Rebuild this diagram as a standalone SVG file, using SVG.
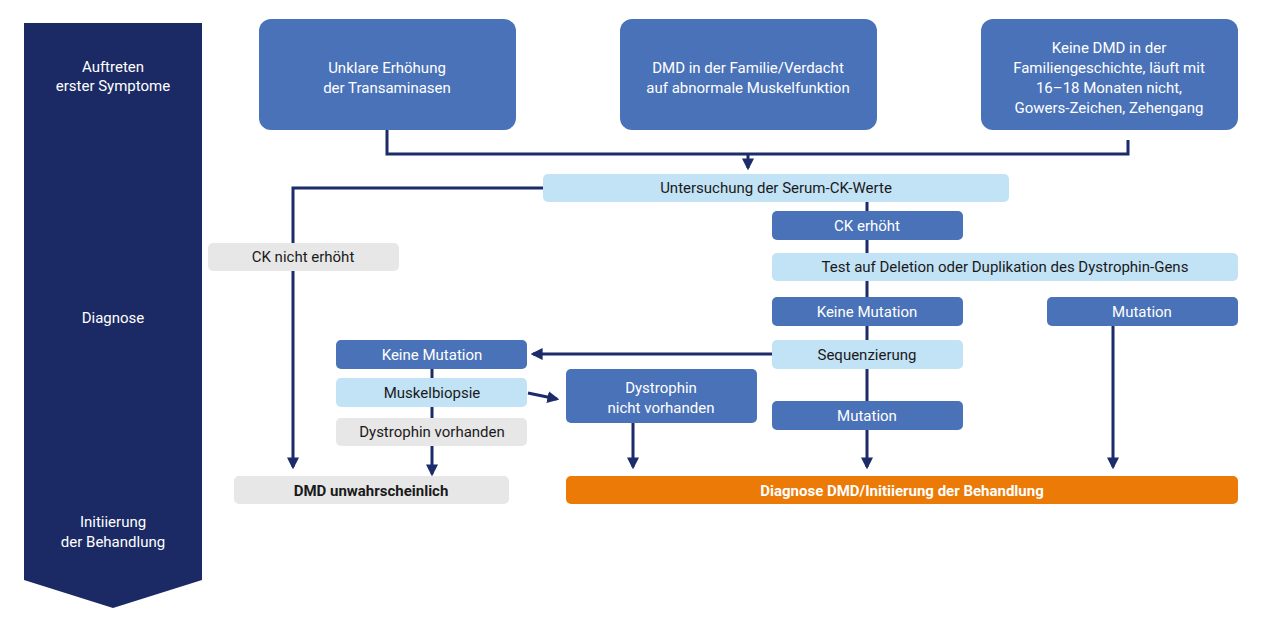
<svg xmlns="http://www.w3.org/2000/svg" width="1280" height="634" viewBox="0 0 1280 634">
<defs>
<marker id="ah" viewBox="0 0 10 10" refX="8" refY="5" markerWidth="4" markerHeight="4" orient="auto"><path d="M0,0L10,5L0,10z" fill="#1c2b69"/></marker>
<style>
text{font-family:Roboto,"Liberation Sans",sans-serif;font-size:15px;text-anchor:middle}
.b{fill:#4a72b8}.l{fill:#c2e2f6}.g{fill:#e7e7e7}.o{fill:#ec7a06}
.w{fill:#fff}.k{fill:#1a1a1a}
.c{stroke:#1c2b69;stroke-width:3;fill:none}
.a{marker-end:url(#ah)}
</style>
</defs>
<rect width="1280" height="634" fill="#fff"/>
<g id="banner">
<polygon points="24,23 202,23 202,580 113,608 24,580" fill="#1b2a64"/>
<text x="113" y="72" class="w">Auftreten</text><text x="113" y="91" class="w">erster Symptome</text>
<text x="113" y="323" class="w">Diagnose</text>
<text x="113" y="527" class="w">Initiierung</text><text x="113" y="547" class="w">der Behandlung</text>
</g>
<g id="connectors">
<path class="c" d="M387,130V154H1128V140"/>
<path class="c a" d="M748,154V168"/>
<path class="c a" d="M543,188H293V467"/>
<path class="c a" d="M867,202V467"/>
<path class="c a" d="M1113,326V467"/>
<path class="c a" d="M772,354H533"/>
<path class="c a" d="M432,369V474"/>
<path class="c a" d="M528,393L557,399"/>
<path class="c a" d="M633,423V467"/>
</g>
<g id="n1"><rect class="b" x="259" y="19" width="257" height="111" rx="12"/><text class="w" x="387" y="73">Unklare Erhöhung</text><text class="w" x="387" y="93">der Transaminasen</text></g>
<g id="n2"><rect class="b" x="620" y="19" width="257" height="111" rx="12"/><text class="w" x="748" y="73">DMD in der Familie/Verdacht</text><text class="w" x="748" y="93">auf abnormale Muskelfunktion</text></g>
<g id="n3"><rect class="b" x="981" y="19" width="257" height="111" rx="12"/><text class="w" x="1109" y="53">Keine DMD in der</text><text class="w" x="1109" y="73">Familiengeschichte, läuft mit</text><text class="w" x="1109" y="93">16–18 Monaten nicht,</text><text class="w" x="1109" y="113">Gowers-Zeichen, Zehengang</text></g>
<g id="serum"><rect class="l" x="543" y="174" width="466" height="28" rx="5"/><text class="k" x="776" y="193">Untersuchung der Serum-CK-Werte</text></g>
<g id="cknot"><rect class="g" x="208" y="243" width="191" height="28" rx="5"/><text class="k" x="303" y="262">CK nicht erhöht</text></g>
<g id="ckhigh"><rect class="b" x="772" y="211" width="191" height="29" rx="5"/><text class="w" x="867" y="231">CK erhöht</text></g>
<g id="test"><rect class="l" x="772" y="253" width="466" height="28" rx="5"/><text class="k" x="1005" y="272">Test auf Deletion oder Duplikation des Dystrophin-Gens</text></g>
<g id="keine1"><rect class="b" x="772" y="297" width="191" height="29" rx="5"/><text class="w" x="867" y="317">Keine Mutation</text></g>
<g id="mut1"><rect class="b" x="1047" y="297" width="191" height="29" rx="5"/><text class="w" x="1142" y="317">Mutation</text></g>
<g id="seq"><rect class="l" x="772" y="340" width="191" height="29" rx="5"/><text class="k" x="867" y="360">Sequenzierung</text></g>
<g id="mut2"><rect class="b" x="772" y="401" width="191" height="29" rx="5"/><text class="w" x="867" y="421">Mutation</text></g>
<g id="keine2"><rect class="b" x="336" y="340" width="191" height="29" rx="5"/><text class="w" x="432" y="360">Keine Mutation</text></g>
<g id="biopsie"><rect class="l" x="336" y="378" width="191" height="29" rx="5"/><text class="k" x="432" y="398">Muskelbiopsie</text></g>
<g id="vorh"><rect class="g" x="336" y="418" width="191" height="28" rx="5"/><text class="k" x="432" y="437">Dystrophin vorhanden</text></g>
<g id="nvorh"><rect class="b" x="566" y="369" width="191" height="54" rx="5"/><text class="w" x="661" y="393">Dystrophin</text><text class="w" x="661" y="413">nicht vorhanden</text></g>
<g id="unw"><rect class="g" x="234" y="476" width="275" height="28" rx="5"/><text class="k" x="371" y="496" font-weight="bold">DMD unwahrscheinlich</text></g>
<g id="diag"><rect class="o" x="566" y="476" width="672" height="28" rx="5"/><text class="w" x="902" y="496" font-weight="bold">Diagnose DMD/Initiierung der Behandlung</text></g>
</svg>
